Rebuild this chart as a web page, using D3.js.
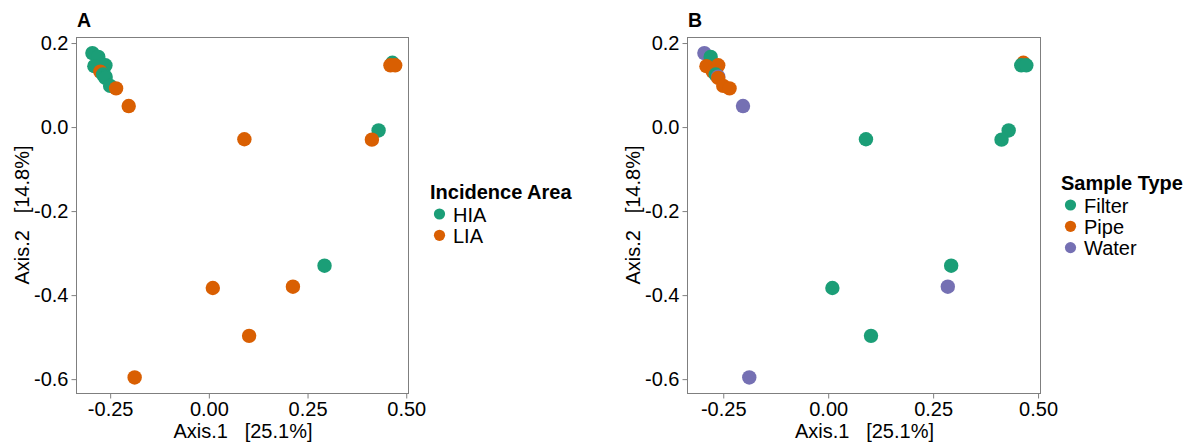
<!DOCTYPE html>
<html>
<head>
<meta charset="utf-8">
<style>
  body { margin: 0; background: #fff; }
  svg { font-family: "Liberation Sans", Arial, sans-serif; }
  .axis path, .axis line { stroke: #7f7f7f; }
  .axis text { font-size: 20px; fill: #000; }
</style>
</head>
<body>
<svg id="chart" width="1188" height="442"></svg>
<script src="https://d3js.org/d3.v7.min.js"></script>
<script>
// PCoA coordinates (panel A places one point a bit further left)
var axis1A = [-0.295, -0.280, -0.290, -0.262, -0.275, -0.268, -0.262, -0.262, -0.250, -0.235,
              -0.203, 0.090, 0.430, 0.413, 0.293, 0.213, 0.010, 0.102, -0.188, 0.465, 0.460, 0.472];
var axis1B = [-0.295, -0.280, -0.290, -0.262, -0.275, -0.268, -0.262, -0.262, -0.250, -0.235,
              -0.203, 0.090, 0.430, 0.413, 0.293, 0.285, 0.010, 0.102, -0.188, 0.465, 0.460, 0.472];
var axis2 = [0.176, 0.167, 0.145, 0.147, 0.132, 0.125, 0.120, 0.117, 0.098, 0.092,
             0.050, -0.029, -0.008, -0.030, -0.330, -0.380, -0.383, -0.497, -0.596, 0.153, 0.147, 0.147];
var area = ["HIA", "HIA", "HIA", "HIA", "LIA", "HIA", "HIA", "HIA", "HIA", "LIA",
            "LIA", "LIA", "HIA", "LIA", "HIA", "LIA", "LIA", "LIA", "LIA", "HIA", "LIA", "LIA"];
var sampleType = ["Water", "Filter", "Pipe", "Pipe", "Pipe", "Filter", "Water", "Pipe", "Pipe", "Pipe",
                  "Water", "Filter", "Filter", "Filter", "Filter", "Water", "Filter", "Filter", "Water", "Pipe", "Filter", "Filter"];

var areaLevels = ["HIA", "LIA"];
var typeLevels = ["Filter", "Pipe", "Water"];
var xTicks = [-0.25, 0, 0.25, 0.5];
var yTicks = [0.2, 0, -0.2, -0.4, -0.6];

var dark2 = ["#1b9e77", "#d95f02", "#7570b3"];

var loc = d3.formatLocale({ decimal: ".", thousands: ",", grouping: [3], currency: ["", ""], minus: "-" });

var svg = d3.select("#chart");

function panel(opts) {
  var rows = opts.xs.map(function(d, i) {
    return { x: d, y: axis2[i], area: area[i], type: sampleType[i] };
  });
  var g = svg.append("g");
  var x = d3.scaleLinear().domain([-0.334, 0.507]).range([opts.left, opts.right]);
  var y = d3.scaleLinear().domain([0.212, -0.633]).range([38, 393]);
  var color = d3.scaleOrdinal().domain(opts.levels).range(dark2);

  g.append("g").attr("class", "axis")
    .attr("transform", "translate(0,393.5)")
    .call(d3.axisBottom(x).tickValues(xTicks).tickSize(5).tickPadding(3)
      .tickFormat(loc.format(".2f")))
    .call(function(a) { a.select(".domain").remove(); });

  g.append("g").attr("class", "axis")
    .attr("transform", "translate(" + (opts.left - 0.5) + ",0)")
    .call(d3.axisLeft(y).tickValues(yTicks).tickSize(5).tickPadding(3)
      .tickFormat(loc.format(".1f")))
    .call(function(a) { a.select(".domain").remove(); });

  g.append("rect")
    .attr("x", opts.left - 0.5).attr("y", 37.5)
    .attr("width", opts.right - opts.left).attr("height", 356)
    .attr("fill", "none").attr("stroke", "#7f7f7f").attr("stroke-width", 1);

  g.selectAll("circle.pt")
    .data(rows)
    .enter().append("circle")
    .attr("class", "pt")
    .attr("cx", function(d) { return x(d.x); })
    .attr("cy", function(d) { return y(d.y); })
    .attr("r", 7.2)
    .attr("fill", function(d) { return color(d[opts.key]); });

  g.append("text")
    .attr("x", opts.left).attr("y", 27)
    .attr("font-size", 19.5).attr("font-weight", "bold")
    .text(opts.tag);

  g.append("text")
    .attr("x", (opts.left + opts.right) / 2).attr("y", 438)
    .attr("text-anchor", "middle").attr("font-size", 20)
    .attr("xml:space", "preserve")
    .text("Axis.1   [25.1%]");

  g.append("text")
    .attr("transform", "translate(" + (opts.left - 48) + ",215) rotate(-90)")
    .attr("text-anchor", "middle").attr("font-size", 20)
    .attr("xml:space", "preserve")
    .text("Axis.2   [14.8%]");

  var lg = g.append("g").attr("transform", "translate(" + opts.legX + "," + opts.legY + ")");
  lg.append("text").attr("x", 0).attr("y", 0)
    .attr("font-size", 20).attr("font-weight", "bold")
    .text(opts.title);
  var item = lg.selectAll("g.item").data(opts.levels).enter().append("g")
    .attr("transform", function(d, i) { return "translate(0," + (15 + i * 21.3) + ")"; });
  item.append("circle").attr("cx", 9.5).attr("cy", 0).attr("r", 5.6)
    .attr("fill", function(d) { return color(d); });
  item.append("text").attr("x", 23).attr("y", 7.5)
    .attr("font-size", 20).text(function(d) { return d; });
}

panel({ left: 77, right: 409, xs: axis1A, key: "area", levels: areaLevels, tag: "A",
        title: "Incidence Area", legX: 430, legY: 199 });
panel({ left: 688, right: 1041, xs: axis1B, key: "type", levels: typeLevels, tag: "B",
        title: "Sample Type", legX: 1061, legY: 190 });
</script>
</body>
</html>
